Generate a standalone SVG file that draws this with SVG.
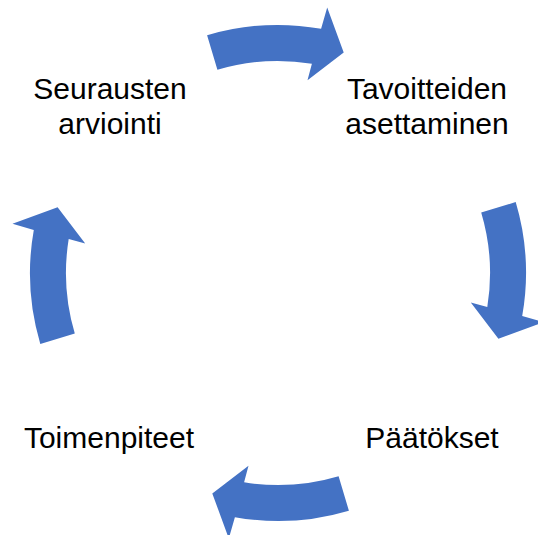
<svg xmlns="http://www.w3.org/2000/svg" width="538" height="535" viewBox="0 0 538 535">
  <style>
    .lbl { font-family: "Liberation Sans", Arial, sans-serif; font-size: 30px; fill: #000; text-anchor: middle; }
    .arrow { fill: #4472C4; }
  </style>
  <defs>
    <path id="carrow" d="M 207.1,35.3 A 248 248 0 0 1 321.1,28.8 L 327.2,7.5 L 343.7,52.6 L 307.5,80.2 L 311.9,63.7 A 212 212 0 0 0 217.4,69.8 Z"/>
  </defs>
  <rect width="538" height="535" fill="#fff"/>
  <g id="connectors">
    <use href="#carrow" class="arrow"/>
    <use href="#carrow" class="arrow" transform="rotate(90 278 273)"/>
    <use href="#carrow" class="arrow" transform="rotate(180 278 273)"/>
    <use href="#carrow" class="arrow" transform="rotate(270 278 273)"/>
  </g>
  <g id="node-seuraus">
    <text class="lbl" x="110" y="99">Seurausten</text>
    <text class="lbl" x="110" y="134">arviointi</text>
  </g>
  <g id="node-tavoite">
    <text class="lbl" x="427" y="99">Tavoitteiden</text>
    <text class="lbl" x="427" y="134">asettaminen</text>
  </g>
  <g id="node-paatokset">
    <text class="lbl" x="432" y="448">Päätökset</text>
  </g>
  <g id="node-toimenpiteet">
    <text class="lbl" x="109" y="448">Toimenpiteet</text>
  </g>
</svg>
